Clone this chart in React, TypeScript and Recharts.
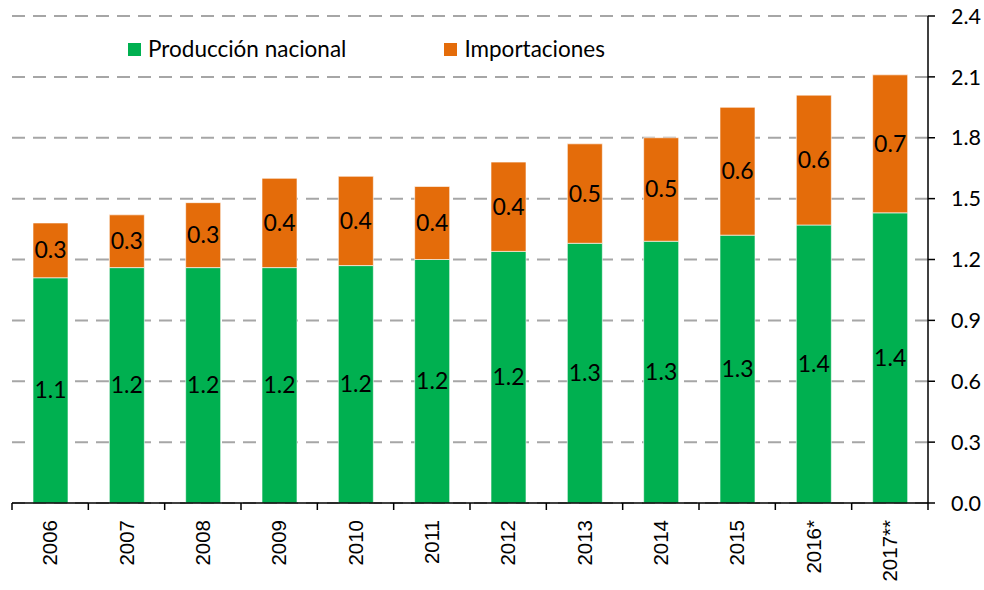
import { BarChart, Bar, XAxis, YAxis, CartesianGrid, LabelList } from 'recharts';

const years = ['2006', '2007', '2008', '2009', '2010', '2011', '2012', '2013', '2014', '2015', '2016*', '2017**'];
const produccion = [1.11, 1.16, 1.16, 1.16, 1.17, 1.2, 1.24, 1.28, 1.29, 1.32, 1.37, 1.43];
const importaciones = [0.27, 0.26, 0.32, 0.44, 0.44, 0.36, 0.44, 0.49, 0.51, 0.63, 0.64, 0.68];
const yTicks = [0, 0.3, 0.6, 0.9, 1.2, 1.5, 1.8, 2.1, 2.4];

const seriesNames = ['Producción nacional', 'Importaciones'];
const GREEN = '#00b050';
const ORANGE = '#e46c0a';

const W = 984;
const H = 590;
const LEFT = 12;
const AXIS_W = 56;
const BAND = (W - LEFT - AXIS_W) / years.length;

const data = years.map((year, i) => ({
  year,
  prod: produccion[i],
  imp: importaciones[i],
}));

const XTick = (props: any) => {
  const { x, y, payload, index } = props;
  return (
    <g>
      <line x1={x - BAND / 2} x2={x - BAND / 2} y1={y} y2={y + 7} stroke="#000" strokeWidth={1.5} />
      {index === years.length - 1 && (
        <line x1={x + BAND / 2} x2={x + BAND / 2} y1={y} y2={y + 7} stroke="#000" strokeWidth={1.5} />
      )}
      <text
        x={0}
        y={0}
        transform={`translate(${x + 7},${y + 17}) rotate(-90)`}
        textAnchor="end"
        fontFamily="'Liberation Sans', Arial, sans-serif"
        fontSize={20.5}
        fill="#000"
      >
        {payload.value}
      </text>
    </g>
  );
};

const valueLabel = (props: any) => {
  const { x, y, width, height, value } = props;
  return (
    <text
      x={x + width / 2}
      y={y + height / 2}
      dy={8}
      textAnchor="middle"
      fontFamily="Lato, sans-serif"
      fontSize={23}
      fill="#000"
    >
      {Number(value).toFixed(1)}
    </text>
  );
};

export default function App() {
  return (
    <div style={{ position: 'absolute', left: 0, top: 0, width: W, height: H, background: '#fff' }}>
      <BarChart
        width={W}
        height={H}
        data={data}
        margin={{ top: 16, right: 0, left: LEFT, bottom: 0 }}
        barCategoryGap={0}
      >
        <CartesianGrid vertical={false} stroke="#a6a6a6" strokeWidth={2} strokeDasharray="13 8" />
        <XAxis
          dataKey="year"
          height={87}
          tickLine={false}
          tickSize={0}
          tickMargin={0}
          interval={0}
          axisLine={{ stroke: '#000', strokeWidth: 1.5 }}
          tick={<XTick />}
        />
        <YAxis
          orientation="right"
          width={AXIS_W}
          domain={[0, 2.4]}
          ticks={yTicks}
          interval={0}
          tickFormatter={(v: number) => v.toFixed(1)}
          axisLine={{ stroke: '#000', strokeWidth: 1.5 }}
          tickLine={{ stroke: '#000', strokeWidth: 1.5 }}
          tickSize={7}
          tickMargin={16}
          tick={{ fill: '#000', fontSize: 21.5, fontFamily: 'Lato, sans-serif', textAnchor: 'start' }}
        />
        <Bar
          dataKey="prod"
          stackId="a"
          fill={GREEN}
          barSize={35}
          stroke="rgba(255,255,255,0.6)"
          strokeWidth={1}
          isAnimationActive={false}
        >
          <LabelList dataKey="prod" content={valueLabel} />
        </Bar>
        <Bar
          dataKey="imp"
          stackId="a"
          fill={ORANGE}
          barSize={35}
          stroke="rgba(255,255,255,0.6)"
          strokeWidth={1}
          isAnimationActive={false}
        >
          <LabelList dataKey="imp" content={valueLabel} />
        </Bar>
      </BarChart>
      <div
        style={{
          position: 'absolute',
          top: 36,
          left: 128,
          display: 'flex',
          alignItems: 'center',
          fontFamily: 'Lato, sans-serif',
          fontSize: 22.5,
          color: '#000',
          lineHeight: '26px',
        }}
      >
        {seriesNames.map((name, i) => (
          <div key={name} style={{ display: 'flex', alignItems: 'center', marginRight: i === 0 ? 98 : 0 }}>
            <span
              style={{ display: 'inline-block', width: 13, height: 13, background: i === 0 ? GREEN : ORANGE, marginRight: 7 }}
            />
            <span>{name}</span>
          </div>
        ))}
      </div>
    </div>
  );
}
